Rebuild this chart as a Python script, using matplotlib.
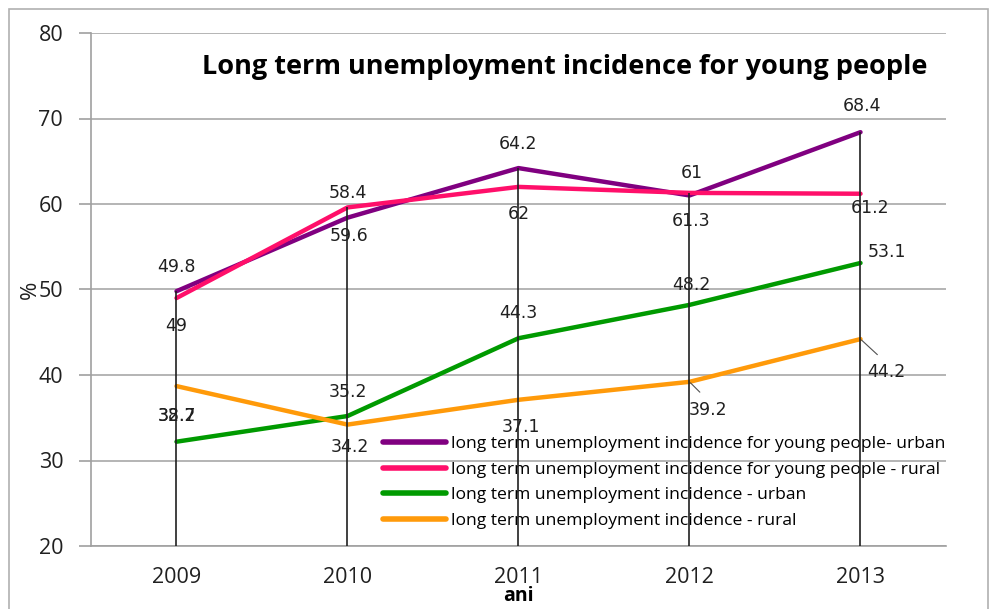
import matplotlib
matplotlib.use('Agg')
import matplotlib.pyplot as plt
from matplotlib.patches import Rectangle

# Data
years = ['2009', '2010', '2011', '2012', '2013']
young_urban = [49.8, 58.4, 64.2, 61, 68.4]
young_rural = [49, 59.6, 62, 61.3, 61.2]
total_urban = [32.2, 35.2, 44.3, 48.2, 53.1]
total_rural = [38.7, 34.2, 37.1, 39.2, 44.2]

series_names = [
    'long term unemployment incidence for young people- urban',
    'long term unemployment incidence for young people - rural',
    'long term unemployment incidence - urban',
    'long term unemployment incidence - rural',
]
series_colors = ['#800080', '#FF0F6A', '#009A00', '#FF9A0A']

# label offsets in pixels (dx, dy), dy up
label_offsets = [
    [(0, 24), (0, 25), (0, 24), (2, 22), (2, 26)],
    [(0, -28), (2, -29), (0, -27), (2, -28), (10, -14)],
    [(0, 26), (0, 24), (0, 25), (2, 20), (26, 11)],
    [(0, -30), (2, -22), (2, -27), (19, -28), (26, -33)],
]
leader = [[False] * 5, [False] * 5, [False] * 5,
          [False, False, False, True, True]]

W, H = 995, 609
fig = plt.figure(figsize=(W / 100, H / 100), dpi=100)
ax = fig.add_axes([91 / W, 1 - 546 / H, (946 - 91) / W, (546 - 33) / H])

# outer chart border
fig.patches.append(Rectangle((9 / W, -0.05), (988 - 9) / W, 1 - 9 / H + 0.05,
                             transform=fig.transFigure, fill=False,
                             edgecolor='#b0b0b0', lw=1.2))

x = list(range(len(years)))
all_series = [young_urban, young_rural, total_urban, total_rural]

for vals, name, col in zip(all_series, series_names, series_colors):
    ax.plot(x, vals, color=col, lw=3.2, label=name, solid_capstyle='round',
            zorder=3)

# drop lines from the highest point down to the axis
tops = [max(v) for v in zip(*all_series)]
ax.vlines(x, 20, tops, color='#202020', lw=1.2, zorder=7)

px = 0.72
for vals, offs, lead in zip(all_series, label_offsets, leader):
    for i, v in enumerate(vals):
        dx, dy = offs[i]
        kw = {}
        if lead[i]:
            kw['arrowprops'] = dict(arrowstyle='-', color='#505050', lw=0.8,
                                    shrinkA=6, shrinkB=1, relpos=(0.5, 1.0))
        ax.annotate(f'{v:g}', (i, v), xytext=(dx * px, dy * px),
                    textcoords='offset points', ha='center', va='center',
                    fontsize=12.5, family='DejaVu Sans', color='#202020',
                    zorder=6, **kw)

ax.set_xlim(-0.5, 4.5)
ax.set_ylim(20, 80)
ax.set_yticks(range(20, 81, 10))
ax.set_xticks(x)
ax.set_xticklabels(years, family='Open Sans', fontsize=15.5)
for t in ax.get_yticklabels():
    t.set_family('Open Sans')
    t.set_fontsize(15.5)
ax.tick_params(axis='x', length=0, pad=15, colors='#202020')
ax.tick_params(axis='y', length=9, width=1.2, color='#a0a0a0', pad=11,
               labelcolor='#202020')
ax.yaxis.grid(True, color='#a8a8a8', lw=1.2)
ax.set_axisbelow(True)
for s in ['top', 'right']:
    ax.spines[s].set_visible(False)
for s in ['left', 'bottom']:
    ax.spines[s].set_color('#a0a0a0')
    ax.spines[s].set_linewidth(1.2)

ax.set_xlabel('ani', family='Open Sans', fontweight='bold', fontsize=14,
              labelpad=-1)
fig.text(30 / W, 1 - 290 / H, '%', rotation=90, ha='center', va='center',
         family='Open Sans', fontsize=16, color='#202020')

fig.text(565 / W, 1 - 67 / H,
         'Long term unemployment incidence for young people',
         ha='center', va='center', family='Open Sans', fontweight='bold',
         fontsize=19.5, color='#000000')

leg = ax.legend(loc='upper left', bbox_to_anchor=(383 / W, 1 - 436 / H),
                bbox_transform=fig.transFigure, frameon=False,
                prop={'family': 'Open Sans', 'size': 12.6},
                handlelength=3.6, handletextpad=0.3, labelspacing=0.53,
                borderpad=0, borderaxespad=0)
leg.set_zorder(5)
for ln in leg.get_lines():
    ln.set_linewidth(4)

fig.savefig('out.png', dpi=100)
